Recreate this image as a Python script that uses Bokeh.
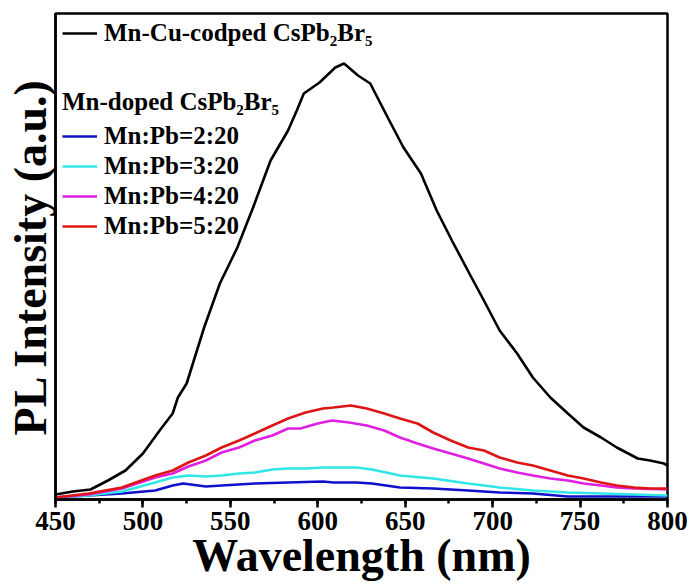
from bokeh.plotting import figure
from bokeh.models import Range1d, SingleIntervalTicker, FixedTicker, Legend, LegendItem
from bokeh.embed import file_html
from bokeh.resources import INLINE

# ---- data ----
black_nm = [450, 460, 470, 480, 490, 500, 505, 510, 517, 520, 525, 535, 544, 554, 563, 573, 583, 588, 592,
            601, 610, 615, 623, 630, 640, 649, 659, 668, 677, 687, 695, 704, 714, 723, 733, 743, 752, 762,
            771, 783, 790, 798, 800]
black_I = [5, 8, 10, 19, 29, 46, 58, 70, 86, 102, 116, 172, 216, 252, 292, 339, 369, 389, 406,
           417, 432, 436, 424, 416, 382, 352, 326, 289, 258, 225, 199, 169, 146, 122, 102, 86, 72, 62,
           52, 41, 39, 36, 34]

red_nm = [450, 469, 488, 507, 517, 526, 536, 545, 555, 564, 574, 583, 593, 603, 609, 619, 628, 638, 647,
          657, 666, 676, 686, 695, 704, 714, 723, 733, 743, 752, 762, 771, 781, 790, 800]
red_I = [2, 6, 12, 24, 29, 37, 44, 52, 59, 66, 74, 81, 87, 91, 92, 94, 91, 86, 81,
         76, 67, 59, 52, 49, 42, 37, 34, 29, 24, 21, 17, 14, 12, 11, 11]

mag_nm = [450, 469, 488, 507, 517, 526, 536, 545, 555, 564, 574, 583, 590, 600, 608, 618, 628, 638, 647,
          657, 666, 676, 686, 695, 704, 714, 723, 733, 743, 752, 762, 771, 781, 800]
mag_I = [2, 5, 11, 22, 26, 33, 39, 47, 52, 59, 64, 71, 71, 76, 79, 77, 74, 69, 62,
         56, 51, 46, 41, 36, 31, 27, 24, 21, 19, 16, 14, 12, 11, 10]

cyan_nm = [450, 469, 488, 507, 517, 526, 536, 545, 555, 564, 574, 583, 593, 603, 612, 622, 631, 647,
           666, 686, 704, 723, 743, 762, 781, 800]
cyan_I = [2, 4, 8, 17, 22, 24, 23, 24, 26, 27, 30, 31, 31, 32, 32, 32, 30, 24,
          21, 16, 12, 9, 7, 6, 5, 4]

blue_nm = [450, 469, 488, 507, 517, 523, 536, 545, 564, 583, 603, 609, 622, 631, 647, 666, 686, 704,
           723, 743, 762, 781, 800]
blue_I = [2, 4, 6, 9, 14, 16, 13, 14, 16, 17, 18, 17, 17, 16, 12, 11, 9, 7,
          6, 3, 3, 3, 3]

x_title = "Wavelength (nm)"
y_title = "PL Intensity (a.u.)"
black_label = "Mn-Cu-codped CsPb\u2082Br\u2085"
group_title = "Mn-doped CsPb\u2082Br\u2085"
ratio_labels = ["Mn:Pb=2:20", "Mn:Pb=3:20", "Mn:Pb=4:20", "Mn:Pb=5:20"]

FONT = "Liberation Serif"

p = figure(width=693, height=586, output_backend="svg", toolbar_location=None,
           x_range=Range1d(450, 800), y_range=Range1d(0, 486),
           min_border_left=55, min_border_right=26, min_border_top=13, min_border_bottom=87)
p.background_fill_color = "white"
p.border_fill_color = "white"
p.outline_line_color = "black"
p.outline_line_width = 2.5
p.xgrid.visible = False
p.ygrid.visible = False

# x axis
p.xaxis.ticker = SingleIntervalTicker(interval=50, num_minor_ticks=2)
p.xaxis.axis_line_width = 2.5
p.xaxis.major_tick_line_width = 2.5
p.xaxis.minor_tick_line_width = 2.5
p.xaxis.major_tick_in = 0
p.xaxis.major_tick_out = 8
p.xaxis.minor_tick_in = 0
p.xaxis.minor_tick_out = 4
p.xaxis.major_label_text_font = FONT
p.xaxis.major_label_text_font_style = "bold"
p.xaxis.major_label_text_font_size = "27px"
p.xaxis.major_label_text_color = "black"
p.xaxis.major_label_standoff = 4
p.xaxis.axis_label = x_title
p.xaxis.axis_label_text_font = FONT
p.xaxis.axis_label_text_font_style = "bold"
p.xaxis.axis_label_text_font_size = "46px"
p.xaxis.axis_label_text_color = "black"
p.xaxis.axis_label_standoff = -3

# y axis (no ticks, no labels)
p.yaxis.ticker = FixedTicker(ticks=[])
p.yaxis.axis_line_width = 2.5
p.yaxis.major_tick_line_color = None
p.yaxis.minor_tick_line_color = None
p.yaxis.axis_label = y_title
p.yaxis.axis_label_text_font = FONT
p.yaxis.axis_label_text_font_style = "bold"
p.yaxis.axis_label_text_font_size = "46px"
p.yaxis.axis_label_text_color = "black"
p.yaxis.axis_label_standoff = 0

lw = 2.6
r_black = p.line(black_nm, black_I, line_color="black", line_width=lw)
r_blue = p.line(blue_nm, blue_I, line_color="#1010cc", line_width=lw)
r_cyan = p.line(cyan_nm, cyan_I, line_color="#30e6e6", line_width=lw)
r_mag = p.line(mag_nm, mag_I, line_color="#e020e0", line_width=lw)
r_red = p.line(red_nm, red_I, line_color="#dd1515", line_width=lw)

def style_legend(lg):
    lg.label_text_font = FONT
    lg.label_text_font_style = "bold"
    lg.label_text_font_size = "25px"
    lg.label_text_color = "black"
    lg.glyph_width = 35
    lg.glyph_height = 30
    lg.label_height = 30
    lg.label_standoff = 7
    lg.spacing = 0
    lg.padding = 0
    lg.margin = 0
    lg.border_line_color = None
    lg.background_fill_alpha = 0

leg1 = Legend(items=[LegendItem(label=black_label, renderers=[r_black])], location=(7, 451))
style_legend(leg1)
p.add_layout(leg1, "center")

leg2 = Legend(items=[LegendItem(label=ratio_labels[0], renderers=[r_blue]),
                     LegendItem(label=ratio_labels[1], renderers=[r_cyan]),
                     LegendItem(label=ratio_labels[2], renderers=[r_mag]),
                     LegendItem(label=ratio_labels[3], renderers=[r_red])],
              location=(7, 258), title=group_title)
style_legend(leg2)
leg2.title_text_font = FONT
leg2.title_text_font_style = "bold"
leg2.title_text_font_size = "25px"
leg2.title_text_color = "black"
leg2.title_standoff = 5
p.add_layout(leg2, "center")

open("out.html", "w").write(file_html(p, INLINE))
